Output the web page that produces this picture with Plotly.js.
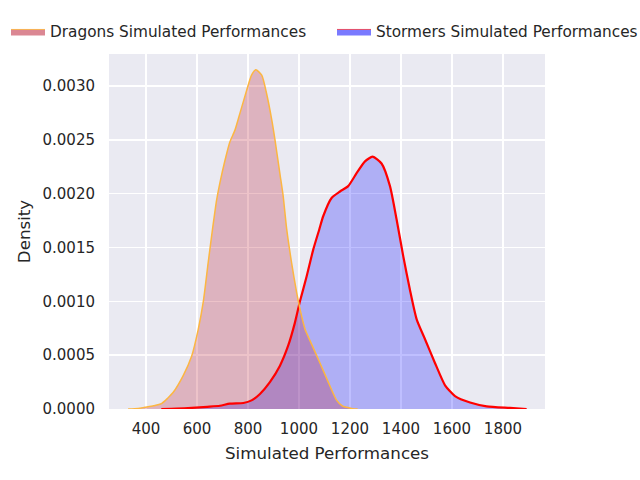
<!DOCTYPE html>
<html>
<head>
<meta charset="utf-8">
<script src="https://cdn.plot.ly/plotly-3.0.1.min.js"></script>
<style>html,body{margin:0;padding:0;background:#fff;}#chart{width:640px;height:480px;}</style>
</head>
<body>
<div id="chart"></div>
<script>
// Dragons KDE
const dragonsX = [330, 370, 396, 430, 461, 485, 507, 546, 579, 605, 625, 644, 661, 677, 690, 710, 729, 749, 769, 795, 814, 831, 854, 873, 893, 906, 925, 938, 952, 971, 991, 1004, 1024, 1050, 1082, 1115, 1148, 1170, 1187, 1210, 1230];
const dragonsY = [0, 0.000005, 0.000016, 0.00003, 0.00005, 0.0001, 0.000155, 0.00031, 0.00049, 0.00074, 0.001, 0.00136, 0.00167, 0.00194, 0.0021, 0.00231, 0.00248, 0.00259, 0.00275, 0.00296, 0.0031, 0.00315, 0.0031, 0.00293, 0.00269, 0.0025, 0.00219, 0.00198, 0.00167, 0.00136, 0.00108, 0.00093, 0.00074, 0.0006, 0.00043, 0.00025, 0.00008, 0.00003, 0.000016, 0.000003, 0];
// Stormers KDE
const stormersX = [460, 520, 580, 640, 690, 729, 782, 814, 847, 886, 925, 958, 984, 1004, 1030, 1056, 1080, 1095, 1128, 1161, 1193, 1226, 1259, 1289, 1324, 1357, 1383, 1409, 1435, 1462, 1494, 1533, 1573, 1612, 1671, 1736, 1827, 1893];
const stormersY = [0, 0.000003, 0.00001, 0.00002, 0.00003, 0.00005, 0.000056, 0.00008, 0.00014, 0.00025, 0.0004, 0.00059, 0.0008, 0.001, 0.00123, 0.00148, 0.00167, 0.00179, 0.00196, 0.00202, 0.00207, 0.00219, 0.0023, 0.002343, 0.00228, 0.00207, 0.00176, 0.00142, 0.00111, 0.00083, 0.00065, 0.00043, 0.00022, 0.00012, 0.00006, 0.000025, 0.00001, 0];

const seriesNames = ['Dragons Simulated Performances', 'Stormers Simulated Performances'];
const xTicks = [400, 600, 800, 1000, 1200, 1400, 1600, 1800];
const yTicks = [0, 0.0005, 0.001, 0.0015, 0.002, 0.0025, 0.003];

const font = 'DejaVu Sans, Verdana, sans-serif';
const txt = '#262626';

const traces = [
  // fills (Stormers first, Dragons on top)
  {x: stormersX, y: stormersY, type: 'scatter', mode: 'lines', fill: 'tozeroy',
   fillcolor: 'rgba(0,0,255,0.25)', line: {width: 0, shape: 'spline', smoothing: 0.6}, showlegend: false, hoverinfo: 'skip'},
  {x: dragonsX, y: dragonsY, type: 'scatter', mode: 'lines', fill: 'tozeroy',
   fillcolor: 'rgba(183,15,39,0.25)', line: {width: 0, shape: 'spline', smoothing: 0.6}, showlegend: false, hoverinfo: 'skip'},
  // outlines
  {x: stormersX, y: stormersY, type: 'scatter', mode: 'lines',
   line: {color: '#ff0000', width: 2.2, shape: 'spline', smoothing: 0.6}, showlegend: false},
  {x: dragonsX, y: dragonsY, type: 'scatter', mode: 'lines',
   line: {color: 'rgb(252,182,66)', width: 1.5, shape: 'spline', smoothing: 0.6}, showlegend: false},
  // legend entries
  {x: [null], y: [null], type: 'scatter', mode: 'lines', fill: 'tozeroy', name: seriesNames[0], legend: 'legend',
   fillcolor: 'rgba(183,15,39,0.5)', line: {color: 'rgba(255,165,0,0.6)', width: 1}},
  {x: [null], y: [null], type: 'scatter', mode: 'lines', fill: 'tozeroy', name: seriesNames[1], legend: 'legend2',
   fillcolor: 'rgba(0,0,255,0.52)', line: {color: 'rgba(255,0,0,0.6)', width: 1}}
];

const legendCommon = {orientation: 'h', xref: 'paper', yref: 'paper', y: 1 + (54 - 15) / 355, xanchor: 'left', yanchor: 'top',
  font: {family: font, size: 15.3, color: txt}, bgcolor: 'rgba(0,0,0,0)', itemwidth: 34};

const layout = {
  width: 640, height: 480,
  paper_bgcolor: '#ffffff', plot_bgcolor: '#EAEAF2',
  margin: {l: 109, r: 95, t: 54, b: 71, autoexpand: false},
  font: {family: font, color: txt, size: 15},
  showlegend: true,
  legend: Object.assign({}, legendCommon, {x: (6 - 109) / 436}),
  legend2: Object.assign({}, legendCommon, {x: (332 - 109) / 436}),
  xaxis: {range: [255, 1965], tickvals: xTicks, ticktext: xTicks.map(String), showgrid: true, gridcolor: '#ffffff', gridwidth: 1.4,
          zeroline: false, showline: false, ticks: '', ticklabelstandoff: 9, tickfont: {family: font, size: 15, color: txt},
          title: {text: 'Simulated Performances', font: {family: font, size: 16.7, color: txt}, standoff: 10}},
  yaxis: {range: [0, 0.003297], tickvals: yTicks, ticktext: yTicks.map(v => v.toFixed(4)), showgrid: true, gridcolor: '#ffffff', gridwidth: 1.4,
          zeroline: false, showline: false, ticks: '', ticklabelstandoff: 13, tickfont: {family: font, size: 15, color: txt},
          title: {text: 'Density', font: {family: font, size: 16.7, color: txt}, standoff: 7}}
};

Plotly.newPlot('chart', traces, layout, {displayModeBar: false, staticPlot: true});
</script>
</body>
</html>
